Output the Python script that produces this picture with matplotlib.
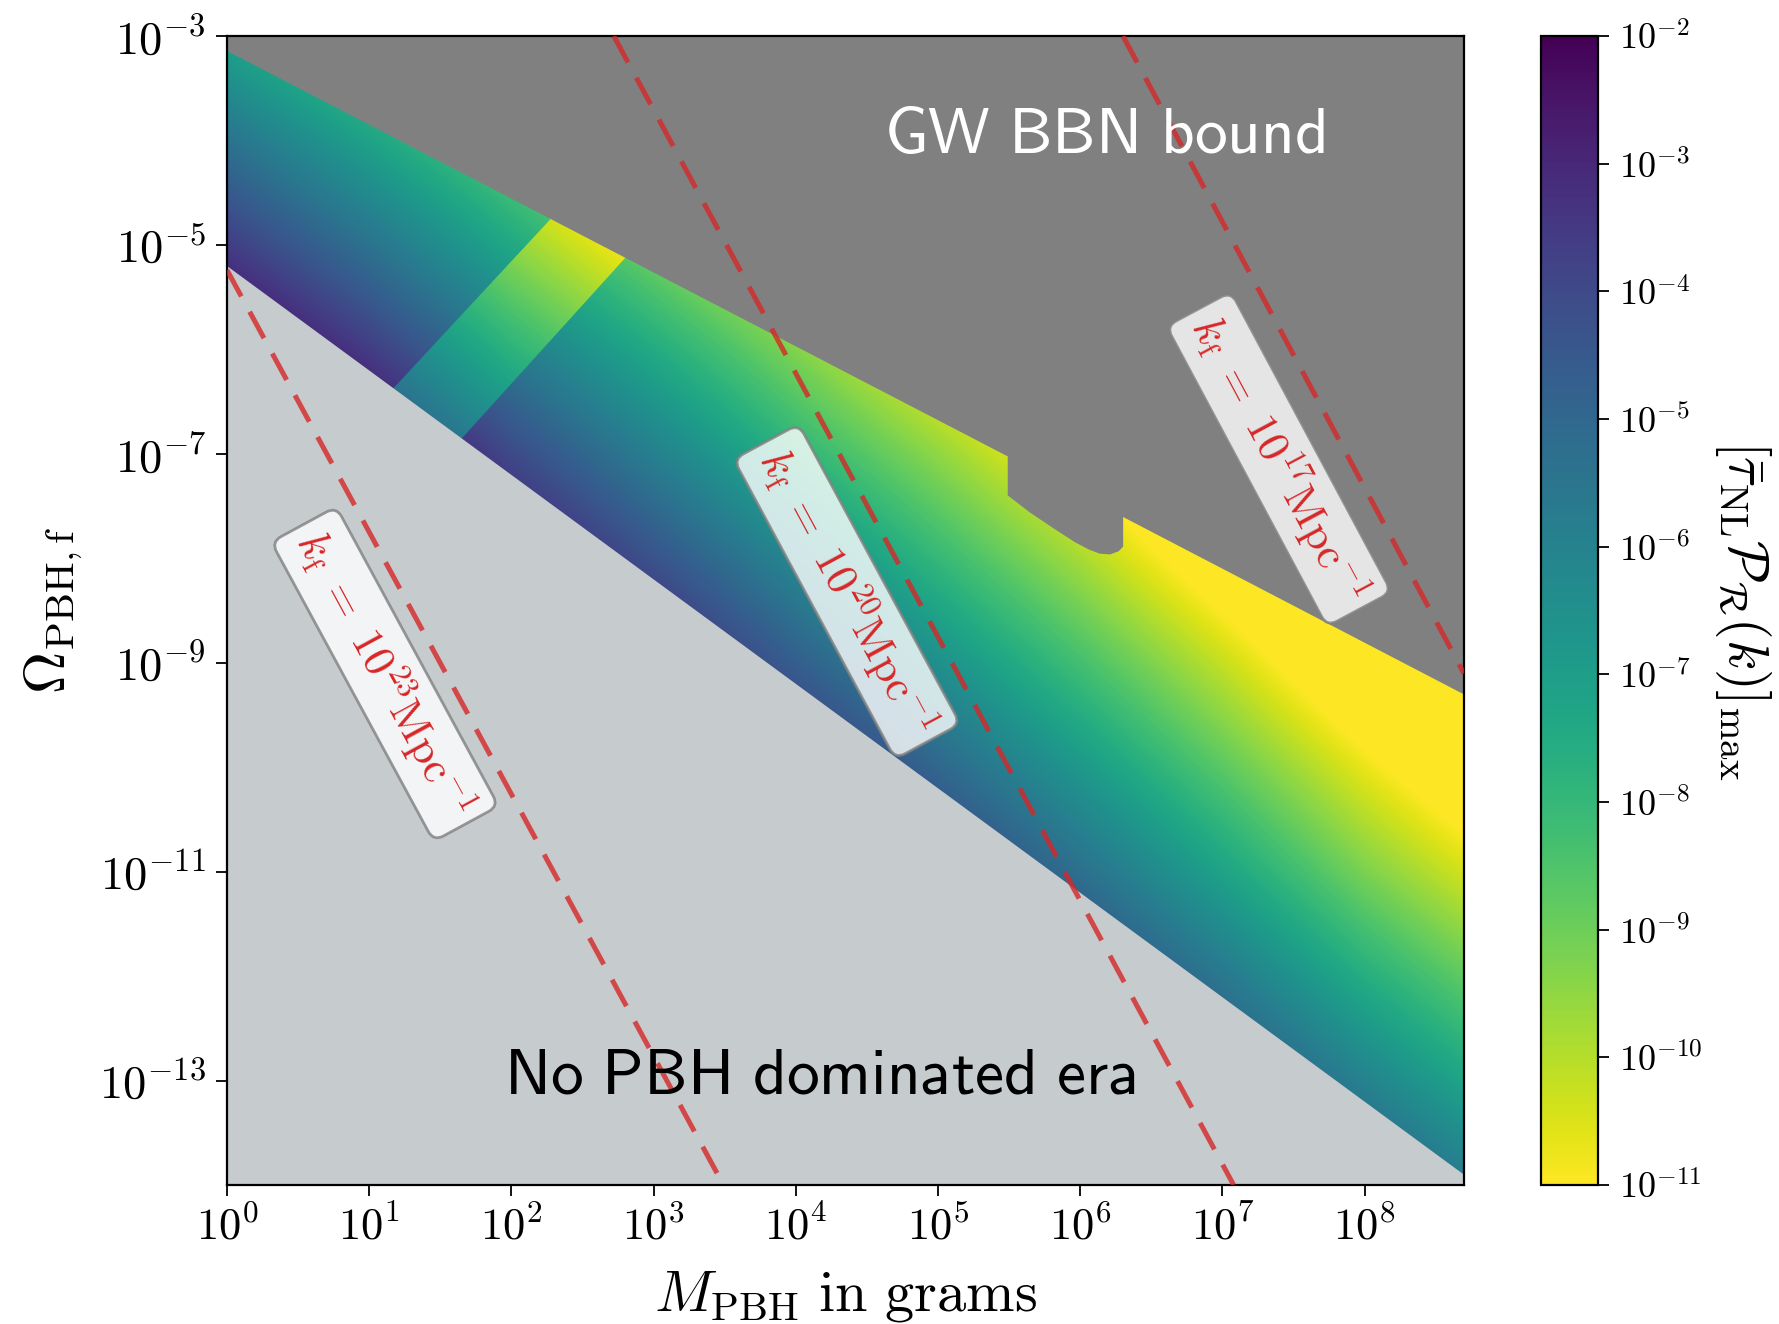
import numpy as np
import matplotlib
matplotlib.use('Agg')
import matplotlib.pyplot as plt
from matplotlib.colors import LogNorm, Normalize
from matplotlib.cm import ScalarMappable
from matplotlib.image import AxesImage
from matplotlib.patches import Polygon
from matplotlib.ticker import FuncFormatter, NullLocator

plt.rcParams['mathtext.fontset'] = 'cm'
plt.rcParams['axes.linewidth'] = 1.6

# grid on which the colour values were read (M in grams, Omega_PBH,f)
M_nodes = [1e0, 1e1, 1e2, 1e3, 1e4, 1e5, 1e6, 1e7, 1e8, 1e9]
Om_nodes = [1e-3, 1e-4, 1e-5, 1e-6, 1e-7, 1e-8, 1e-9, 1e-10, 1e-11, 1e-12, 1e-13, 1e-14]

# log10 [tau_NL P_R(k)]_max, rows follow Om_nodes, columns follow M_nodes
log_amp = np.array([
    [-7.3, -9.0, -10.7, -12.0, -12.0, -12.0, -12.0, -12.0, -12.0, -12.0],
    [-5.4, -7.2, -9.0, -10.8, -12.0, -12.0, -12.0, -12.0, -12.0, -12.0],
    [-3.6, -5.4, -7.4, -9.2, -10.9, -12.6, -12.0, -12.0, -12.0, -12.0],
    [-1.7, -3.6, -5.7, -7.5, -9.3, -11.1, -12.8, -12.0, -12.0, -12.0],
    [0.2, -1.8, -4.0, -5.9, -7.8, -9.5, -11.3, -13.3, -12.0, -12.0],
    [-1.0, 0.0, -2.4, -4.3, -6.2, -8.0, -9.8, -11.8, -13.9, -15.6],
    [-1.0, -1.0, -0.7, -2.7, -4.7, -6.5, -8.3, -10.2, -12.3, -14.1],
    [-1.0, -1.0, -1.0, -1.1, -3.1, -5.0, -6.8, -8.7, -10.7, -12.5],
    [-1.0, -1.0, -1.0, -1.0, -1.5, -3.5, -5.3, -7.2, -9.2, -10.9],
    [-1.0, -1.0, -1.0, -1.0, -1.0, -2.0, -3.8, -5.6, -7.6, -9.3],
    [-1.0, -1.0, -1.0, -1.0, -1.0, -1.0, -2.3, -4.1, -6.0, -7.8],
    [-1.0, -1.0, -1.0, -1.0, -1.0, -1.0, -1.0, -2.6, -4.4, -6.2],
])

# brighter strip between M ~ 15 g and M ~ 650 g
band_M_nodes = [1e1, 1e2, 1e3]
band_Om_nodes = [1e-4, 1e-5, 1e-6, 1e-7]
band_log_amp = np.array([
    [-9.3, -11.1, -12.9],
    [-7.5, -9.5, -11.3],
    [-5.7, -7.8, -9.6],
    [-3.9, -6.1, -8.0],
])
band_M = [11.2, 263, 891, 33.1]
band_Om = [2.82e-7, 2.88e-5, 1.26e-5, 8.91e-8]

# GW BBN bound (upper edge of the allowed region)
M_upper = [1.0, 3.07e5, 3.07e5, 4.37e5, 6.50e5, 9.12e5, 1.15e6, 1.36e6,
           1.61e6, 1.85e6, 1.99e6, 1.99e6, 5e8]
Om_upper = [7.24e-4, 9.55e-8, 4.04e-8, 2.79e-8, 1.94e-8, 1.44e-8, 1.22e-8,
            1.12e-8, 1.10e-8, 1.18e-8, 1.31e-8, 2.51e-8, 5.0e-10]

# no PBH domination below this line
M_lower = [1.0, 5e8]
Om_lower = [6.3e-6, 1.26e-14]

# constant k_f lines
kf_values = [23, 20, 17]
kf_M = [[1.0, 3.1e3], [5.25e2, 1.2e7], [2.0e6, 5e8]]
kf_Om = [[5.75e-6, 1e-14], [1e-3, 1e-14], [1e-3, 7.9e-10]]
kf_label_M = [12.9, 2.29e4, 2.5e7]
kf_label_Om = [7.8e-10, 4.8e-9, 8.9e-8]

xticks = [1e0, 1e1, 1e2, 1e3, 1e4, 1e5, 1e6, 1e7, 1e8]
yticks = [1e-3, 1e-5, 1e-7, 1e-9, 1e-11, 1e-13]
cbar_ticks = [1e-11, 1e-10, 1e-9, 1e-8, 1e-7, 1e-6, 1e-5, 1e-4, 1e-3, 1e-2]


def grid_extent(xs, ys):
    # pixel centres on the nodes, in the log-scaled space of the axes
    lx, ly = np.log10(xs), np.log10(ys)
    hx, hy = abs(lx[1] - lx[0]) / 2, abs(ly[1] - ly[0]) / 2
    return (lx.min() - hx, lx.max() + hx, ly.min() - hy, ly.max() + hy)


fig = plt.figure(figsize=(17.79, 13.24), dpi=100)
ax = fig.add_axes([0.1276, 0.1050, 0.6953, 0.8678])
cax = fig.add_axes([0.8662, 0.1050, 0.0320, 0.8678])

ax.set_xscale('log')
ax.set_yscale('log')
ax.set_xlim(1, 5e8)
ax.set_ylim(1e-14, 1e-3)

cmap = 'viridis_r'
img_norm = Normalize(vmin=-11, vmax=-2)
scaled = ax.transLimits + ax.transAxes

field = AxesImage(ax, cmap=cmap, norm=img_norm, interpolation='bilinear',
                  interpolation_stage='data', origin='upper',
                  extent=grid_extent(M_nodes, Om_nodes), transform=scaled)
field.set_data(log_amp)
field.set_zorder(1)
field.set_clip_path(ax.patch)
ax.add_image(field)

band = AxesImage(ax, cmap=cmap, norm=img_norm, interpolation='bilinear',
                 interpolation_stage='data', origin='upper',
                 extent=grid_extent(band_M_nodes, band_Om_nodes), transform=scaled)
band.set_data(band_log_amp)
band.set_zorder(1.5)
band.set_clip_path(Polygon(np.column_stack([band_M, band_Om]),
                           transform=ax.transData))
ax.add_image(band)

ax.fill_between(M_upper, Om_upper, 1e-3, color='#808080', lw=0, zorder=2)
ax.fill_between(M_lower, Om_lower, 1e-14, color='#c6cbce', lw=0, zorder=2)

fmt = FuncFormatter(lambda v, pos: r'$10^{%d}$' % int(round(np.log10(v))))

for kf, xs, ys, lx, ly in zip(kf_values, kf_M, kf_Om, kf_label_M, kf_label_Om):
    ax.plot(xs, ys, color='#d62728', alpha=0.8, lw=3.6,
            ls=(0, (6, 3.5)), zorder=3)
    p1 = ax.transData.transform((xs[0], ys[0]))
    p2 = ax.transData.transform((xs[1], ys[1]))
    ang = np.degrees(np.arctan2(p2[1] - p1[1], p2[0] - p1[0]))
    ax.text(lx, ly, r'$k_{\rm f}\ =\ 10^{%d}{\rm Mpc}^{-1}$' % kf,
            rotation=ang, rotation_mode='anchor', ha='center', va='center',
            color='#d62728', fontsize=32, zorder=4,
            bbox=dict(boxstyle='round,pad=0.25', fc='white', ec='gray',
                      alpha=0.8, lw=2))

ax.text(10 ** 6.17, 10 ** -3.95, r'$\mathsf{GW\ BBN\ bound}$', color='white',
        fontsize=47, ha='center', va='center', zorder=4)
ax.text(10 ** 4.17, 10 ** -12.95, r'$\mathsf{No\ PBH\ dominated\ era}$',
        color='black', fontsize=47, ha='center', va='center', zorder=4)

ax.set_xticks(xticks)
ax.set_yticks(yticks)
ax.xaxis.set_minor_locator(NullLocator())
ax.yaxis.set_minor_locator(NullLocator())
ax.xaxis.set_major_formatter(fmt)
ax.yaxis.set_major_formatter(fmt)
ax.tick_params(length=8, width=1.3, pad=7)
ax.tick_params(axis='x', labelsize=32)
ax.tick_params(axis='y', labelsize=33.5)

ax.set_xlabel(r'$M_{\rm PBH}\ {\rm in\ grams}$', fontsize=42, labelpad=13)
ax.set_ylabel(r'$\Omega_{\rm PBH,f}$', fontsize=42, labelpad=10)

sm = ScalarMappable(norm=LogNorm(vmin=1e-11, vmax=1e-2), cmap=cmap)
cbar = fig.colorbar(sm, cax=cax)
cbar.set_ticks(cbar_ticks)
cbar.minorticks_off()
cbar.ax.yaxis.set_major_formatter(fmt)
cbar.ax.tick_params(labelsize=26, length=8, width=1.3, pad=7)
cbar.outline.set_linewidth(1.6)
cbar.set_label(r'$\left[\bar{\tau}_{\rm NL}\mathcal{P}_\mathcal{R}(k)\right]_{\rm max}$',
               fontsize=40, rotation=270, labelpad=51)

fig.savefig('out.png', dpi=100)
